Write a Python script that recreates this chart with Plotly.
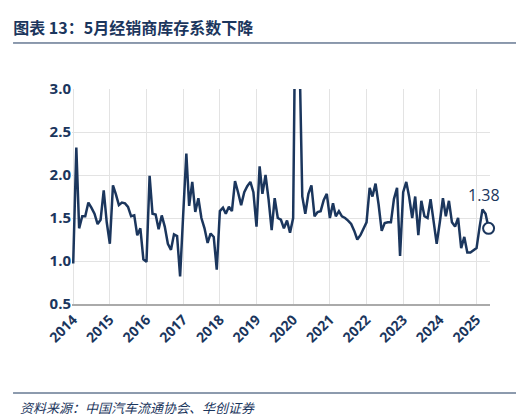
import plotly.graph_objects as go
import pandas as pd

# 经销商库存系数, 月度 2014-01 ~ 2025-05
v2014 = [0.97, 2.32, 1.38, 1.52, 1.52, 1.68, 1.62, 1.55, 1.43, 1.48, 1.82, 1.45]
v2015 = [1.20, 1.88, 1.78, 1.65, 1.68, 1.67, 1.63, 1.52, 1.53, 1.30, 1.38, 1.02]
v2016 = [0.99, 1.99, 1.55, 1.54, 1.37, 1.53, 1.40, 1.20, 1.13, 1.31, 1.29, 0.82]
v2017 = [1.55, 2.25, 1.64, 1.92, 1.57, 1.73, 1.50, 1.38, 1.21, 1.32, 1.28, 0.90]
v2018 = [1.58, 1.62, 1.55, 1.63, 1.58, 1.93, 1.80, 1.65, 1.80, 1.87, 1.92, 1.80]
v2019 = [1.40, 2.10, 1.78, 2.00, 1.72, 1.36, 1.73, 1.50, 1.48, 1.38, 1.47, 1.33]
v2020 = [1.50, 5.00, 3.60, 1.75, 1.55, 1.78, 1.88, 1.52, 1.57, 1.58, 1.71, 1.78]
v2021 = [1.50, 1.67, 1.52, 1.58, 1.52, 1.50, 1.47, 1.43, 1.35, 1.25, 1.30, 1.38]
v2022 = [1.45, 1.85, 1.75, 1.90, 1.66, 1.35, 1.44, 1.45, 1.45, 1.72, 1.85, 1.06]
v2023 = [1.80, 1.92, 1.75, 1.50, 1.75, 1.30, 1.70, 1.52, 1.50, 1.72, 1.45, 1.20]
v2024 = [1.45, 1.73, 1.52, 1.70, 1.45, 1.40, 1.50, 1.15, 1.28, 1.10, 1.10, 1.13]
v2025 = [1.15, 1.40, 1.60, 1.55, 1.38]

values = v2014 + v2015 + v2016 + v2017 + v2018 + v2019 + v2020 + v2021 + v2022 + v2023 + v2024 + v2025
dates = pd.date_range("2014-01-01", periods=len(values), freq="MS")

navy = "#1b365d"
fig = go.Figure()
fig.add_trace(go.Scatter(x=dates, y=values, mode="lines",
                         line=dict(color=navy, width=2.5), showlegend=False))
fig.add_trace(go.Scatter(x=[dates[-1]], y=[values[-1]], mode="markers",
                         marker=dict(size=11, color="white", line=dict(color=navy, width=2)),
                         showlegend=False, cliponaxis=False))

fig.update_layout(
    width=524, height=418, plot_bgcolor="white", paper_bgcolor="white",
    margin=dict(l=64, r=42, t=81, b=122),
    font=dict(family="Open Sans", color=navy),
    title=dict(text="<b>图表 13：5月经销商库存系数下降</b>", x=0.01, y=0.965,
               font=dict(size=16, color=navy, family="Noto Sans CJK SC")),
    xaxis=dict(tickformat="%Y", dtick="M12", tick0="2014-01-01", tickangle=-45,
               range=["2013-12-20", "2025-05-15"], showgrid=True, gridcolor="#e3e3e3",
               showline=True, linecolor="#aaaaaa", linewidth=2,
               tickfont=dict(size=14, color=navy, family="Open Sans", weight="bold")),
    yaxis=dict(range=[0.5, 3.0], dtick=0.5, tickformat=".1f", showgrid=True,
               gridcolor="#e3e3e3", zeroline=False,
               tickfont=dict(size=15, color=navy, family="Open Sans", weight="bold")),
    shapes=[
        dict(type="line", xref="paper", yref="paper", x0=-0.141, x1=1.089, y0=1.214, y1=1.214,
             line=dict(color=navy, width=1)),
        dict(type="line", xref="paper", yref="paper", x0=-0.141, x1=1.089, y0=-0.414, y1=-0.414,
             line=dict(color=navy, width=1)),
    ],
    annotations=[
        dict(text="<i>资料来源：中国汽车流通协会、华创证券</i>", xref="paper", yref="paper",
             x=-0.13, y=-0.43, xanchor="left", yanchor="top", showarrow=False,
             font=dict(size=13, color=navy, family="Noto Sans CJK SC")),
        dict(text=f"{values[-1]:.2f}", x=dates[-1], y=values[-1], showarrow=False,
             xshift=-5, yshift=33, font=dict(size=16, color=navy, family="Open Sans")),
    ],
)

fig.write_html("out.html")
